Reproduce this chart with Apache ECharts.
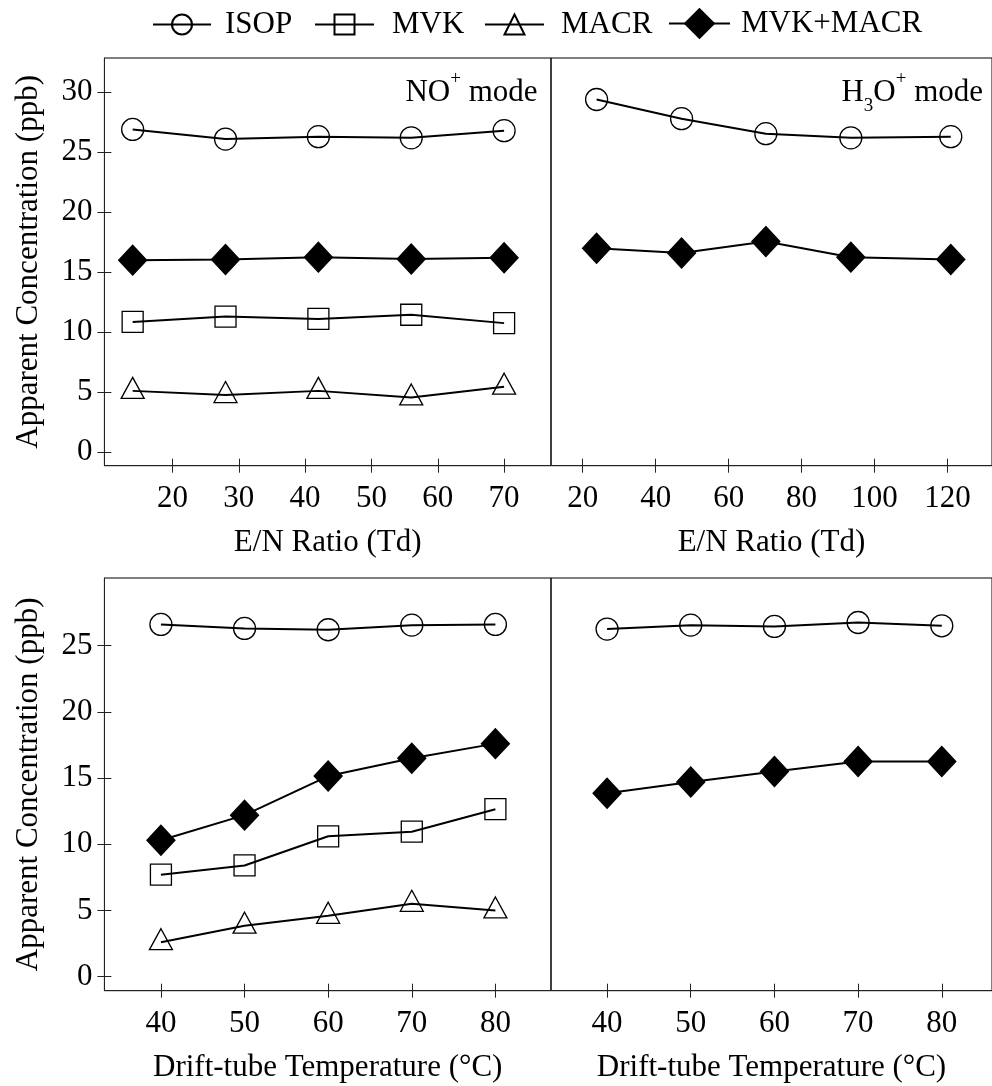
<!DOCTYPE html>
<html>
<head>
<meta charset="utf-8">
<script src="https://cdn.jsdelivr.net/npm/echarts@6/dist/echarts.min.js"></script>
<style>
  html, body { margin: 0; padding: 0; background: #fff; }
  #chart { width: 992px; height: 1086px; }
</style>
</head>
<body>
<div id="chart"></div>
<script>
// x values of each panel
var enNO = [14, 28, 42, 56, 70];
var enH3O = [23.8, 47.1, 70.2, 93.5, 120.9];
var temps = [40, 50, 60, 70, 80];

// NO+ mode, E/N scan (top left)
var enNO_ISOP = [26.9, 26.1, 26.3, 26.2, 26.8];
var enNO_MVK = [10.85, 11.3, 11.1, 11.45, 10.75];
var enNO_MACR = [5.1, 4.75, 5.1, 4.55, 5.45];
var enNO_SUM = [16.0, 16.05, 16.25, 16.1, 16.2];

// H3O+ mode, E/N scan (top right)
var enH3O_ISOP = [29.4, 27.8, 26.55, 26.2, 26.3];
var enH3O_SUM = [17.0, 16.6, 17.55, 16.25, 16.05];

// NO+ mode, temperature scan (bottom left)
var tNO_ISOP = [26.6, 26.3, 26.2, 26.55, 26.6];
var tNO_MVK = [7.7, 8.4, 10.6, 10.95, 12.65];
var tNO_MACR = [2.6, 3.85, 4.6, 5.5, 5.0];
var tNO_SUM = [10.3, 12.2, 15.15, 16.5, 17.6];

// H3O+ mode, temperature scan (bottom right)
var tH3O_ISOP = [26.25, 26.55, 26.45, 26.75, 26.5];
var tH3O_SUM = [13.85, 14.7, 15.5, 16.25, 16.25];

// tick labels
var enNOTicks = [20, 30, 40, 50, 60, 70];
var enH3OTicks = [20, 40, 60, 80, 100, 120];
var tempTicks = [40, 50, 60, 70, 80];
var concTicksTop = [0, 5, 10, 15, 20, 25, 30];
var concTicksBottom = [0, 5, 10, 15, 20, 25];

var F = "'Liberation Serif', 'Times New Roman', serif";
var FS = 31;
var INK = '#000';

var chart = echarts.init(document.getElementById('chart'));

// main axis + a twin that only draws the inner half of the ticks
function xAxes(grid, min, max, ticks, name) {
  return [{
    type: 'value', gridIndex: grid, min: min, max: max, position: 'bottom',
    name: name, nameLocation: 'middle', nameGap: 62,
    nameTextStyle: { fontFamily: F, fontSize: FS, color: INK },
    axisLine: { show: true, onZero: false, lineStyle: { color: '#222', width: 1 } },
    axisTick: { show: true, customValues: ticks, length: 7, lineStyle: { color: '#222', width: 1 } },
    axisLabel: { customValues: ticks, margin: 18, fontFamily: F, fontSize: FS, color: INK },
    splitLine: { show: false }
  }, {
    type: 'value', gridIndex: grid, min: min, max: max, position: 'bottom',
    axisLine: { show: false, onZero: false },
    axisTick: { show: true, inside: true, customValues: ticks, length: 7, lineStyle: { color: '#222', width: 1 } },
    axisLabel: { show: false },
    splitLine: { show: false }
  }];
}

function yAxes(grid, min, max, ticks, visible) {
  if (!visible) {
    return [
      { type: 'value', gridIndex: grid, min: min, max: max, show: false, splitLine: { show: false } },
      { type: 'value', gridIndex: grid, min: min, max: max, show: false, splitLine: { show: false } }
    ];
  }
  return [{
    type: 'value', gridIndex: grid, min: min, max: max, position: 'left',
    name: 'Apparent Concentration (ppb)', nameLocation: 'middle', nameGap: 60,
    nameTextStyle: { fontFamily: F, fontSize: FS, color: INK },
    axisLine: { show: true, onZero: false, lineStyle: { color: '#222', width: 1 } },
    axisTick: { show: true, customValues: ticks, length: 7, lineStyle: { color: '#222', width: 1 } },
    axisLabel: { customValues: ticks, margin: 12, fontFamily: F, fontSize: FS, color: INK },
    splitLine: { show: false }
  }, {
    type: 'value', gridIndex: grid, min: min, max: max, position: 'left',
    axisLine: { show: false, onZero: false },
    axisTick: { show: true, inside: true, customValues: ticks, length: 7, lineStyle: { color: '#222', width: 1 } },
    axisLabel: { show: false },
    splitLine: { show: false }
  }];
}

var SYM = {
  ISOP: { symbol: 'circle', size: 22, fill: 'rgba(0,0,0,0)', offset: [0, 0] },
  MVK: { symbol: 'rect', size: 21, fill: 'rgba(0,0,0,0)', offset: [0, 0] },
  MACR: { symbol: 'triangle', size: [23, 21], fill: 'rgba(0,0,0,0)', offset: [0, -3] },
  'MVK+MACR': { symbol: 'diamond', size: [28, 30], fill: '#000', offset: [0, 0] }
};

function line(name, grid, xs, ys) {
  var s = SYM[name];
  return {
    type: 'line', name: name, xAxisIndex: 2 * grid, yAxisIndex: 2 * grid,
    data: xs.map(function (x, i) { return [x, ys[i]]; }),
    symbol: s.symbol, symbolSize: s.size, symbolOffset: s.offset,
    showAllSymbol: true,
    lineStyle: { color: INK, width: 2 },
    itemStyle: { color: s.fill, borderColor: INK, borderWidth: 1.3 },
    emphasis: { disabled: true }
  };
}

function legendFor(name, left, top, iw, ih, pad) {
  return {
    data: [name], left: left, top: top, itemWidth: iw, itemHeight: ih,
    padding: 0, selectedMode: false,
    textStyle: { fontFamily: F, fontSize: FS, color: INK, padding: [0, 0, 0, pad] }
  };
}

var gridStyle = { show: true, borderColor: INK, borderWidth: 1, backgroundColor: 'transparent' };

var option = {
  animation: false,
  backgroundColor: '#fff',
  legend: [
    legendFor('ISOP', 152, 9, 58, 25, 9),
    legendFor('MVK', 314, 9, 59, 25, 13),
    legendFor('MACR', 484, 9, 59, 25, 12),
    legendFor('MVK+MACR', 668, 8, 61, 36, 6)
  ],
  grid: [
    Object.assign({ left: 104.4, top: 58, width: 446.6, height: 407.7 }, gridStyle),
    Object.assign({ left: 551, top: 58, width: 441, height: 407.7 }, gridStyle),
    Object.assign({ left: 104.4, top: 578, width: 446.6, height: 412.7 }, gridStyle),
    Object.assign({ left: 551, top: 578, width: 441, height: 412.7 }, gridStyle)
  ],
  xAxis: [].concat(
    xAxes(0, 9.74, 77.07, enNOTicks, 'E/N Ratio (Td)'),
    xAxes(1, 11.3, 132.2, enH3OTicks, 'E/N Ratio (Td)'),
    xAxes(2, 33.24, 86.65, tempTicks, 'Drift-tube Temperature (°C)'),
    xAxes(3, 33.3, 86.0, tempTicks, 'Drift-tube Temperature (°C)')
  ),
  yAxis: [].concat(
    yAxes(0, -1.14, 32.86, concTicksTop, true),
    yAxes(1, -1.14, 32.86, concTicksTop, false),
    yAxes(2, -1.06, 30.11, concTicksBottom, true),
    yAxes(3, -1.06, 30.11, concTicksBottom, false)
  ),
  series: [
    line('ISOP', 0, enNO, enNO_ISOP),
    line('MVK', 0, enNO, enNO_MVK),
    line('MACR', 0, enNO, enNO_MACR),
    line('MVK+MACR', 0, enNO, enNO_SUM),
    line('ISOP', 1, enH3O, enH3O_ISOP),
    line('MVK+MACR', 1, enH3O, enH3O_SUM),
    line('ISOP', 2, temps, tNO_ISOP),
    line('MVK', 2, temps, tNO_MVK),
    line('MACR', 2, temps, tNO_MACR),
    line('MVK+MACR', 2, temps, tNO_SUM),
    line('ISOP', 3, temps, tH3O_ISOP),
    line('MVK+MACR', 3, temps, tH3O_SUM)
  ],
  graphic: [
    {
      type: 'text', x: 537.5, y: 93,
      style: {
        text: '{a|NO}{sup|+}{a| mode}', align: 'right', verticalAlign: 'middle',
        rich: {
          a: { fontFamily: F, fontSize: FS, lineHeight: 46, fill: INK },
          sup: { fontFamily: F, fontSize: 19, lineHeight: 19, verticalAlign: 'top', fill: INK }
        }
      }
    },
    {
      type: 'text', x: 983, y: 93,
      style: {
        text: '{a|H}{sub|3}{a|O}{sup|+}{a| mode}', align: 'right', verticalAlign: 'middle',
        rich: {
          a: { fontFamily: F, fontSize: FS, lineHeight: 46, fill: INK },
          sub: { fontFamily: F, fontSize: 19, lineHeight: 24, verticalAlign: 'bottom', fill: INK },
          sup: { fontFamily: F, fontSize: 19, lineHeight: 19, verticalAlign: 'top', fill: INK }
        }
      }
    }
  ]
};

chart.setOption(option);
window.addEventListener('resize', chart.resize);
</script>
</body>
</html>
